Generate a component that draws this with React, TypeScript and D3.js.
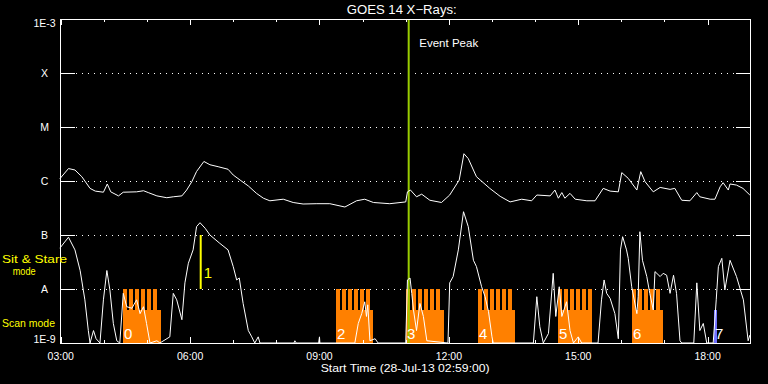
import React from 'react';
import * as d3 from 'd3';

const W = 768;
const H = 384;
const PLOT = { left: 60, right: 750, top: 19, bottom: 343 };

// time axis: hours of 28-Jul-13, start 02:59
const START = 2 + 59 / 60;
const END = START + 16;

const yTickValues = [1e-3, 1e-4, 1e-5, 1e-6, 1e-7, 1e-8, 1e-9];
const yTickLabels = ['1E-3', 'X', 'M', 'C', 'B', 'A', '1E-9'];
const gridValues = [1e-4, 1e-5, 1e-6, 1e-7, 1e-8];
const xTickHours = [3, 6, 9, 12, 15, 18];
const xTickLabels = ['03:00', '06:00', '09:00', '12:00', '15:00', '18:00'];
const minorHours = d3.range(3, 19);

// GOES 14 long channel (1-8 A), [hour, W/m^2]
const longSeries: [number, number][] = [
  [2.98, 1.1e-6], [3.18, 1.7e-6], [3.33, 1.6e-6], [3.49, 1.2e-6], [3.68, 7.3e-7], [3.80, 6.5e-7],
  [3.99, 6.2e-7], [4.08, 8.8e-7], [4.16, 6.3e-7], [4.34, 5.3e-7], [4.45, 6.2e-7], [4.76, 6.3e-7],
  [4.92, 6.6e-7], [5.03, 6.1e-7], [5.23, 5.3e-7], [5.46, 4.9e-7], [5.61, 5.1e-7], [5.81, 5.3e-7],
  [5.92, 6.8e-7], [6.04, 9.7e-7], [6.15, 1.5e-6], [6.32, 2.3e-6], [6.46, 2.0e-6], [6.65, 1.84e-6],
  [6.88, 1.65e-6], [7.00, 1.29e-6], [7.16, 1.04e-6], [7.35, 8.1e-7], [7.54, 5.9e-7], [7.70, 4.8e-7],
  [7.85, 4.3e-7], [8.16, 4.6e-7], [8.39, 4.0e-7], [8.62, 3.75e-7], [8.94, 3.8e-7], [9.24, 3.8e-7],
  [9.59, 3.3e-7], [9.86, 4.3e-7], [10.05, 4.6e-7], [10.25, 4.0e-7], [10.63, 3.8e-7], [11.00, 4.1e-7],
  [11.04, 6.3e-7], [11.11, 6.8e-7], [11.25, 5.1e-7], [11.37, 5.7e-7], [11.56, 4.4e-7], [11.83, 4.0e-7],
  [12.02, 5.5e-7], [12.24, 1.04e-6], [12.35, 3.2e-6], [12.45, 2.6e-6], [12.64, 1.2e-6], [12.95, 7.3e-7],
  [13.19, 5.2e-7], [13.42, 4.1e-7], [13.69, 4.6e-7], [13.92, 4.3e-7], [14.04, 5.5e-7], [14.35, 5.3e-7],
  [14.46, 6.8e-7], [14.54, 4.8e-7], [14.62, 6.1e-7], [14.69, 4.8e-7], [14.81, 5.9e-7], [14.93, 4.6e-7],
  [15.20, 4.3e-7], [15.39, 4.3e-7], [15.58, 7.3e-7], [15.74, 6.5e-7], [15.93, 6.3e-7], [16.01, 1.43e-6],
  [16.16, 1.12e-6], [16.36, 6.8e-7], [16.45, 1.49e-6], [16.55, 9.7e-7], [16.74, 6.3e-7], [16.90, 7.6e-7],
  [17.13, 7.0e-7], [17.24, 7.3e-7], [17.40, 4.4e-7], [17.59, 4.3e-7], [17.75, 6.1e-7], [17.82, 5.1e-7],
  [18.06, 4.6e-7], [18.17, 4.6e-7], [18.29, 7.8e-7], [18.36, 9.3e-7], [18.48, 6.8e-7], [18.52, 8.8e-7],
  [18.67, 8.4e-7], [18.82, 7.3e-7], [18.98, 5.5e-7],
];

// GOES 14 short channel (0.5-4 A), [hour, W/m^2]
const shortSeries: [number, number][] = [
  [2.98, 5.7e-8], [3.18, 9.1e-8], [3.33, 5.3e-8], [3.45, 2.2e-8], [3.56, 6.3e-9], [3.64, 1.7e-9],
  [3.68, 1e-9], [3.76, 1.7e-9], [3.82, 1.2e-9], [3.91, 1e-9], [3.99, 6.3e-9], [4.07, 2.2e-8],
  [4.14, 9.6e-9], [4.22, 2.3e-9], [4.30, 1.1e-9], [4.37, 1e-9], [4.45, 8.3e-9], [4.53, 4.7e-9],
  [4.65, 4.4e-9], [4.76, 6.3e-9], [4.84, 3.5e-9], [4.92, 4.7e-9], [4.99, 2.3e-9], [5.07, 1e-9],
  [5.23, 1.1e-9], [5.30, 1e-9], [5.53, 1.3e-9], [5.61, 8.3e-9], [5.69, 6.3e-9], [5.81, 2.7e-9],
  [5.88, 1.3e-8], [5.96, 3.0e-8], [6.07, 5.3e-8], [6.15, 1.43e-7], [6.23, 1.69e-7], [6.35, 1.33e-7],
  [6.46, 1.0e-7], [6.69, 7.0e-8], [6.88, 5.3e-8], [7.00, 2.6e-8], [7.08, 1.47e-8], [7.14, 1.6e-8],
  [7.23, 5.4e-9], [7.35, 1.7e-9], [7.43, 1.3e-9], [7.50, 1e-9], [7.58, 1.3e-9], [7.62, 1e-9],
  [8.41, 1e-9], [8.43, 1.1e-9], [8.46, 1e-9], [8.98, 1e-9], [9.00, 1.3e-9], [9.01, 1e-9],
  [9.82, 1e-9], [9.90, 2.3e-9], [9.98, 3.5e-9], [10.05, 5.8e-9], [10.09, 3.1e-9], [10.12, 5.1e-9],
  [10.17, 1.1e-9], [10.29, 1.2e-9], [10.36, 1e-9], [11.00, 1e-9], [11.04, 1.47e-8], [11.10, 1.6e-8],
  [11.14, 8.3e-9], [11.18, 4.1e-9], [11.25, 1.7e-9], [11.33, 5.4e-9], [11.41, 3.1e-9], [11.49, 1.1e-9],
  [11.98, 1e-9], [12.02, 1.3e-8], [12.10, 1.7e-8], [12.22, 5.3e-8], [12.34, 2.7e-7], [12.45, 1.43e-7],
  [12.57, 3.4e-8], [12.64, 2.6e-8], [12.76, 1.1e-8], [12.84, 7.2e-9], [12.92, 3.8e-9], [13.00, 1.3e-9],
  [13.03, 1e-9], [13.96, 1e-9], [14.04, 7.2e-9], [14.11, 2.0e-9], [14.19, 1e-9], [14.31, 1.5e-9],
  [14.42, 1.95e-8], [14.48, 3.1e-9], [14.56, 1.1e-8], [14.62, 3.1e-9], [14.73, 5.8e-9], [14.81, 1.7e-9],
  [14.89, 1e-9], [15.00, 1.3e-9], [15.08, 1e-9], [15.46, 1e-9], [15.54, 6.3e-9], [15.60, 1.47e-8],
  [15.66, 8.3e-9], [15.74, 6.7e-9], [15.85, 3.5e-9], [15.93, 1.2e-9], [15.98, 5.3e-8], [16.03, 9.3e-8],
  [16.12, 5.3e-8], [16.16, 3.7e-8], [16.24, 1.1e-8], [16.36, 3.5e-9], [16.39, 7.2e-9], [16.43, 1.15e-7],
  [16.49, 3.4e-8], [16.59, 1.7e-8], [16.66, 8.3e-9], [16.74, 4.1e-9], [16.78, 2.1e-8], [16.90, 1.7e-8],
  [16.97, 1.95e-8], [17.05, 1.8e-8], [17.13, 8.3e-9], [17.21, 1.8e-8], [17.28, 8.3e-9], [17.36, 1.1e-9],
  [17.40, 1e-9], [17.68, 1e-9], [17.75, 1.3e-8], [17.82, 1.7e-9], [17.90, 2.3e-9], [17.98, 1e-9],
  [18.13, 1e-9], [18.20, 6.3e-9], [18.25, 2.6e-8], [18.33, 3.7e-8], [18.40, 9.6e-9], [18.52, 3.4e-8],
  [18.67, 1.7e-8], [18.83, 6.3e-9], [18.94, 1.1e-9], [18.98, 1.4e-9],
];

// scan-mode observations
const scanIds = ['0', '2', '3', '4', '5', '6'];
const scanStart = [4.444, 9.383, 11.007, 12.676, 14.531, 16.247];
const scanEnd = [5.325, 10.241, 11.888, 13.534, 15.320, 16.966];
const scanRasters = [6, 6, 6, 6, 6, 5];
const rasterMinutes = 8.35;
const scanTop = 1e-8;
const scanBase = 4.1e-9;

// sit & stare observation
const sitId = '1';
const sitTime = 6.246;
const sitRange = [1e-8, 1e-7];

// other observation (blue)
const otherId = '7';
const otherStart = 18.148;
const otherEnd = 18.225;

const eventPeak = 11.069;

const FONT = "'Liberation Sans', Arial, sans-serif";

export default function App() {
  const x = d3.scaleLinear().domain([START, END]).range([PLOT.left, PLOT.right]);
  const y = d3.scaleLog().domain([1e-9, 1e-3]).range([PLOT.bottom, PLOT.top]).clamp(true);

  const line = d3
    .line<[number, number]>()
    .x((d) => x(d[0]))
    .y((d) => y(d[1]));

  const yLabelBaseline = (v: number, i: number) => {
    if (i === 0) return y(v) + 8;
    if (i === yTickValues.length - 1) return y(v);
    return y(v) + 4;
  };

  const orange = '#ff8000';
  const rasterH = rasterMinutes / 60;
  const ex = x(eventPeak);
  const gridSegs: [number, number][] = [
    [PLOT.left + 16, ex - 5],
    [ex + 6, PLOT.right - 14],
  ];

  return (
    <svg
      width={W}
      height={H}
      style={{ position: 'absolute', left: 0, top: 0, background: '#000', display: 'block' }}
    >
      <rect x={0} y={0} width={W} height={H} fill="#000" />

      {/* dotted grid */}
      {gridValues.map((v) =>
        gridSegs.map((s, j) => (
          <line
            key={'g' + v + '_' + j}
            x1={s[0]}
            x2={s[1]}
            y1={Math.round(y(v)) + 0.5}
            y2={Math.round(y(v)) + 0.5}
            stroke="#fff"
            strokeWidth={1}
            strokeDasharray="1 5"
            shapeRendering="crispEdges"
          />
        ))
      )}

      {/* scan blocks */}
      {scanIds.map((id, i) => {
        const x0 = x(scanStart[i]);
        const x1 = x(scanEnd[i]);
        const teeth = d3.range(scanRasters[i]).map((k) => {
          const a = x(scanStart[i] + k * rasterH);
          const b = Math.min(x(scanStart[i] + (k + 0.67) * rasterH), x1);
          return (
            <rect
              key={k}
              x={a}
              y={y(scanTop)}
              width={b - a}
              height={y(scanBase) - y(scanTop)}
              fill={orange}
              shapeRendering="crispEdges"
            />
          );
        });
        return (
          <g key={'s' + id}>
            <rect
              x={x0}
              y={y(scanBase)}
              width={x1 - x0}
              height={y(1e-9) - y(scanBase)}
              fill={orange}
              shapeRendering="crispEdges"
            />
            {teeth}
          </g>
        );
      })}

      {/* other (blue) */}
      <rect
        x={x(otherStart)}
        y={y(scanBase)}
        width={x(otherEnd) - x(otherStart)}
        height={y(1e-9) - y(scanBase)}
        fill="#7070ff"
        shapeRendering="crispEdges"
      />

      {/* sit & stare */}
      <line
        x1={x(sitTime)}
        x2={x(sitTime)}
        y1={y(sitRange[0])}
        y2={y(sitRange[1])}
        stroke="#ffff00"
        strokeWidth={2}
      />

      {/* event peak */}
      <line x1={ex} x2={ex} y1={PLOT.top} y2={PLOT.bottom} stroke="#99cc00" strokeWidth={2} />

      {/* curves */}
      <path d={line(shortSeries) || ''} fill="none" stroke="#fff" strokeWidth={1} />
      <path d={line(longSeries) || ''} fill="none" stroke="#fff" strokeWidth={1} />

      {/* observation labels */}
      {scanIds.map((id, i) => (
        <text key={'l' + id} x={x(scanStart[i]) + 1} y={339} fill="#fff" fontFamily={FONT} fontSize={15}>
          {id}
        </text>
      ))}
      <text x={x(otherStart) + 1} y={339} fill="#fff" fontFamily={FONT} fontSize={15}>
        {otherId}
      </text>
      <text x={x(sitTime) + 3} y={278} fill="#ffff00" fontFamily={FONT} fontSize={15}>
        {sitId}
      </text>

      {/* frame */}
      <rect
        x={PLOT.left + 0.5}
        y={PLOT.top + 0.5}
        width={PLOT.right - PLOT.left}
        height={PLOT.bottom - PLOT.top}
        fill="none"
        stroke="#fff"
        strokeWidth={1}
        shapeRendering="crispEdges"
      />

      {/* y ticks */}
      {yTickValues.map((v, i) => (
        <g key={'yt' + i}>
          <line
            x1={PLOT.left}
            x2={PLOT.left + 15}
            y1={Math.round(y(v)) + 0.5}
            y2={Math.round(y(v)) + 0.5}
            stroke="#fff"
            shapeRendering="crispEdges"
          />
          <line
            x1={PLOT.right - 14}
            x2={PLOT.right}
            y1={Math.round(y(v)) + 0.5}
            y2={Math.round(y(v)) + 0.5}
            stroke="#fff"
            shapeRendering="crispEdges"
          />
          <text x={44.5} y={yLabelBaseline(v, i)} fill="#fff" fontFamily={FONT} fontSize={10.5} textAnchor="middle">
            {yTickLabels[i]}
          </text>
        </g>
      ))}

      {/* x ticks */}
      {minorHours.map((h) => {
        const major = h % 3 === 0;
        const len = major ? 6 : 3;
        const px = Math.round(x(h)) + 0.5;
        return (
          <g key={'xt' + h}>
            <line x1={px} x2={px} y1={PLOT.top} y2={PLOT.top + len} stroke="#fff" shapeRendering="crispEdges" />
            <line x1={px} x2={px} y1={PLOT.bottom - len} y2={PLOT.bottom} stroke="#fff" shapeRendering="crispEdges" />
          </g>
        );
      })}
      {xTickHours.map((h, i) => (
        <text key={'xl' + h} x={x(h)} y={359.5} fill="#fff" fontFamily={FONT} fontSize={10.5} textAnchor="middle">
          {xTickLabels[i]}
        </text>
      ))}

      {/* titles */}
      <text x={346.7} y={14} fill="#fff" fontFamily={FONT} fontSize={12.5} textLength={110} lengthAdjust="spacingAndGlyphs">
        GOES 14 X−Rays:
      </text>
      <text x={ex + 10.5} y={46.7} fill="#fff" fontFamily={FONT} fontSize={10.5} textLength={59} lengthAdjust="spacingAndGlyphs">
        Event Peak
      </text>
      <text x={320.7} y={371.7} fill="#fff" fontFamily={FONT} fontSize={10.5} textLength={169} lengthAdjust="spacingAndGlyphs">
        Start Time (28-Jul-13 02:59:00)
      </text>

      {/* mode legend */}
      <text x={2} y={263} fill="#ffff00" fontFamily={FONT} fontSize={11} textLength={65} lengthAdjust="spacingAndGlyphs">
        Sit &amp; Stare
      </text>
      <text x={12.7} y={275} fill="#ffff00" fontFamily={FONT} fontSize={11} textLength={23} lengthAdjust="spacingAndGlyphs">
        mode
      </text>
      <text x={2} y={327.3} fill="#ffff00" fontFamily={FONT} fontSize={11} textLength={53} lengthAdjust="spacingAndGlyphs">
        Scan mode
      </text>
    </svg>
  );
}
